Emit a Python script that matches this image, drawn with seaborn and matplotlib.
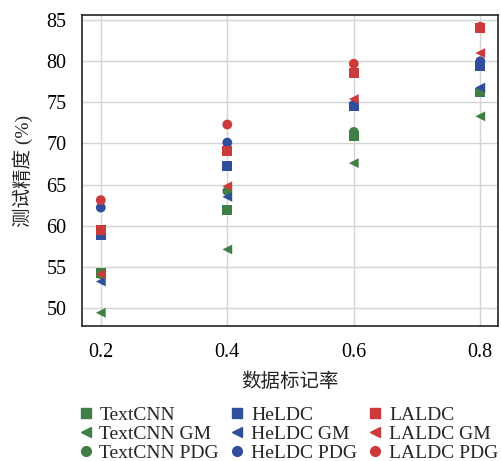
import matplotlib
matplotlib.use("Agg")
import matplotlib.pyplot as plt
import seaborn as sns
import pandas as pd
from matplotlib.lines import Line2D

rates = [0.2, 0.4, 0.6, 0.8]
textcnn = [54.2, 61.9, 70.9, 76.2]
textcnn_gm = [49.4, 57.1, 67.6, 73.3]
textcnn_pdg = [54.1, 64.2, 71.4, 76.3]
heldc = [58.9, 67.3, 74.5, 79.4]
heldc_gm = [53.2, 63.5, 74.8, 76.8]
heldc_pdg = [62.2, 70.1, 74.7, 80.0]
laldc = [59.5, 69.1, 78.6, 84.0]
laldc_gm = [54.1, 64.8, 75.4, 81.0]
laldc_pdg = [63.1, 72.3, 79.7, 84.2]

series = [
    ("TextCNN", textcnn, "TextCNN", "s"),
    ("TextCNN GM", textcnn_gm, "TextCNN", "<"),
    ("TextCNN PDG", textcnn_pdg, "TextCNN", "o"),
    ("HeLDC", heldc, "HeLDC", "s"),
    ("HeLDC GM", heldc_gm, "HeLDC", "<"),
    ("HeLDC PDG", heldc_pdg, "HeLDC", "o"),
    ("LALDC", laldc, "LALDC", "s"),
    ("LALDC GM", laldc_gm, "LALDC", "<"),
    ("LALDC PDG", laldc_pdg, "LALDC", "o"),
]
colors = {"TextCNN": "#3f7f45", "HeLDC": "#2f4f9c", "LALDC": "#cc3b3b"}

rows = []
for name, vals, fam, mk in series:
    for r, v in zip(rates, vals):
        rows.append({"rate": r, "acc": v, "name": name, "fam": fam})
df = pd.DataFrame(rows)

sns.set_style("white")
plt.rcParams["font.family"] = ["Liberation Serif", "Noto Sans CJK SC"]

fig = plt.figure(figsize=(5.02, 4.61), dpi=100)
ax = fig.add_axes([0.163, 0.293, 0.829, 0.674])

markers = {name: mk for name, _, _, mk in series}
palette = {name: colors[fam] for name, _, fam, _ in series}
sns.scatterplot(data=df, x="rate", y="acc", hue="name", style="name",
                markers=markers, palette=palette, s=50, edgecolor="none",
                linewidth=0, ax=ax, legend=False, zorder=3)

ax.set_xlim(0.17, 0.828)
ax.set_ylim(47.8, 85.6)
ax.set_xticks([0.2, 0.4, 0.6, 0.8])
ax.set_xticklabels(["0.2", "0.4", "0.6", "0.8"])
ax.set_yticks([50, 55, 60, 65, 70, 75, 80, 85])
ax.grid(True, color="#d4d4d4", linewidth=1.0)
ax.set_axisbelow(True)
for sp in ax.spines.values():
    sp.set_color("#222222")
    sp.set_linewidth(1.2)
ax.tick_params(direction="in", length=4, width=1, colors="#222222",
               labelsize=14.5, labelcolor="black")
ax.tick_params(axis="y", pad=11)
ax.tick_params(axis="x", pad=12)
ax.set_xlabel("数据标记率", fontsize=14, labelpad=8)
ax.set_ylabel("测试精度 (%)", fontsize=14, labelpad=10)

handles = [Line2D([], [], marker=mk, color=colors[fam], linestyle="none",
                  markersize=7, label=name)
           for name, _, fam, mk in series]
fig.legend(handles=handles, ncol=3, loc="lower center",
           bbox_to_anchor=(0.572, -0.04), frameon=False, fontsize=14,
           handletextpad=0.2, columnspacing=0.45, labelspacing=0.08,
           handlelength=1.0)

fig.savefig("out.png", dpi=100)
